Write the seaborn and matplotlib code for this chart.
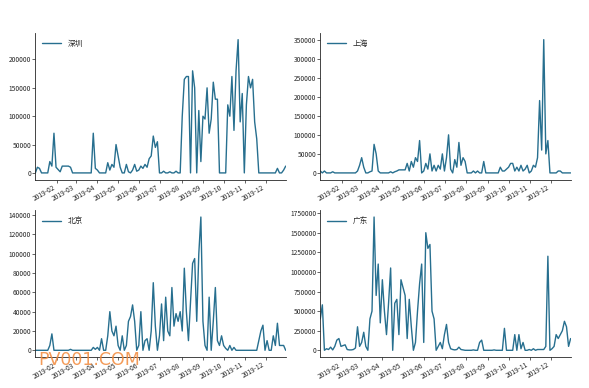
import matplotlib
matplotlib.use("Agg")
import matplotlib.dates as mdates
import matplotlib.pyplot as plt
import matplotlib.ticker as mticker
import pandas as pd
import seaborn as sns

sns.set_style("ticks")
plt.rcParams["font.family"] = ["Noto Sans CJK SC", "DejaVu Sans"]
plt.rcParams["axes.unicode_minus"] = False

OUT_PATH = "out.png"
LINE_COLOR = "#276f8f"

# 每 3 天一个点, 从 2019-01-01 开始, 共 122 个
dates = pd.date_range("2019-01-01", periods=122, freq="3D")

shenzhen = [
    0, 10000, 8000, 0, 0, 0, 0, 20000, 12000, 70000,
    10000, 6000, 2000, 12000, 12000, 12000, 12000, 10000, 0, 0,
    0, 0, 0, 0, 0, 0, 0, 0, 70000, 8000,
    5000, 0, 0, 0, 0, 18000, 5000, 15000, 10000, 50000,
    30000, 10000, 0, 0, 15000, 2000, 0, 5000, 15000, 3000,
    5000, 12000, 8000, 15000, 10000, 25000, 30000, 65000, 45000, 55000,
    0, 0, 3000, 0, 0, 2000, 0, 0, 3000, 0,
    0, 100000, 165000, 170000, 170000, 0, 180000, 150000, 0, 110000,
    20000, 100000, 95000, 150000, 70000, 95000, 160000, 130000, 130000, 0,
    0, 0, 0, 120000, 100000, 170000, 75000, 180000, 235000, 90000,
    140000, 0, 120000, 170000, 150000, 165000, 90000, 60000, 0, 0,
    0, 0, 0, 0, 0, 0, 0, 8000, 0, 0,
    5000, 12000,
]

shanghai = [
    5000, 0, 5000, 0, 0, 0, 3000, 0, 0, 0,
    0, 0, 0, 0, 0, 0, 0, 0, 5000, 20000,
    40000, 15000, 0, 0, 3000, 5000, 75000, 50000, 5000, 0,
    0, 0, 0, 0, 3000, 0, 3000, 5000, 8000, 8000,
    8000, 8000, 25000, 5000, 30000, 15000, 40000, 30000, 85000, 0,
    5000, 25000, 10000, 50000, 5000, 20000, 5000, 20000, 10000, 50000,
    5000, 40000, 100000, 10000, 0, 35000, 15000, 80000, 20000, 40000,
    30000, 0, 0, 0, 5000, 0, 5000, 0, 0, 30000,
    0, 0, 0, 0, 0, 0, 0, 15000, 5000, 5000,
    10000, 15000, 25000, 25000, 5000, 15000, 5000, 20000, 5000, 10000,
    20000, 0, 5000, 20000, 15000, 40000, 190000, 60000, 350000, 50000,
    85000, 0, 0, 0, 0, 5000, 5000, 0, 0, 0,
    0, 0,
]

beijing = [
    0, 0, 0, 0, 0, 0, 0, 5000, 17000, 0,
    0, 0, 0, 0, 0, 0, 0, 1000, 0, 0,
    0, 0, 0, 0, 0, 0, 0, 0, 3000, 1000,
    3000, 0, 12000, 0, 0, 15000, 40000, 20000, 15000, 25000,
    5000, 0, 15000, 0, 5000, 30000, 35000, 47000, 30000, 0,
    5000, 40000, 0, 10000, 12000, 0, 20000, 70000, 25000, 0,
    15000, 48000, 10000, 55000, 20000, 15000, 65000, 25000, 38000, 30000,
    40000, 20000, 85000, 40000, 10000, 50000, 90000, 95000, 30000, 100000,
    138000, 30000, 5000, 0, 55000, 0, 30000, 65000, 10000, 5000,
    15000, 5000, 2000, 0, 5000, 0, 3000, 0, 0, 0,
    0, 0, 0, 0, 0, 0, 0, 0, 10000, 20000,
    26000, 0, 10000, 0, 0, 15000, 5000, 28000, 5000, 5000,
    5000, 0,
]

guangdong = [
    400000, 580000, 0, 20000, 10000, 40000, 5000, 50000, 130000, 150000,
    50000, 60000, 70000, 10000, 5000, 5000, 10000, 30000, 300000, 50000,
    100000, 230000, 50000, 0, 400000, 500000, 1700000, 700000, 1100000, 350000,
    900000, 500000, 200000, 600000, 1050000, 0, 600000, 650000, 200000, 900000,
    800000, 700000, 150000, 650000, 300000, 0, 100000, 500000, 850000, 1100000,
    100000, 1500000, 1300000, 1350000, 500000, 400000, 0, 50000, 100000, 20000,
    200000, 330000, 100000, 20000, 10000, 5000, 10000, 40000, 10000, 5000,
    0, 0, 0, 0, 5000, 0, 0, 100000, 130000, 0,
    0, 0, 0, 0, 5000, 0, 0, 0, 0, 280000,
    0, 0, 0, 0, 200000, 0, 200000, 20000, 100000, 0,
    0, 10000, 0, 20000, 0, 10000, 10000, 10000, 10000, 50000,
    1200000, 0, 20000, 50000, 200000, 150000, 200000, 250000, 370000, 300000,
    50000, 150000,
]

cities = ["深圳", "上海", "北京", "广东"]
series = [shenzhen, shanghai, beijing, guangdong]
y_steps = [50000, 50000, 20000, 250000]


def main() -> None:
    fig, axes = plt.subplots(2, 2, figsize=(5.89, 3.88), dpi=100)
    fig.subplots_adjust(left=0.06, right=0.97, top=0.915, bottom=0.08,
                        wspace=0.135, hspace=0.21)

    for ax, city, values, step in zip(axes.flat, cities, series, y_steps):
        df = pd.DataFrame({"date": dates, "value": values})
        sns.lineplot(data=df, x="date", y="value", ax=ax, color=LINE_COLOR,
                     linewidth=1.0, label=city)
        ax.set_xlim(pd.Timestamp("2019-01-01"), pd.Timestamp("2019-12-31"))
        ax.xaxis.set_major_locator(mdates.MonthLocator(bymonth=range(2, 13)))
        ax.xaxis.set_major_formatter(mdates.DateFormatter("%Y-%m"))
        ax.yaxis.set_major_locator(mticker.MultipleLocator(step))
        ax.yaxis.set_major_formatter(mticker.FuncFormatter(lambda v, p: f"{int(v)}"))
        ax.set_xlabel("")
        ax.set_ylabel("")
        ax.tick_params(labelsize=4.8, length=2, width=0.5, pad=1)
        for lbl in ax.get_xticklabels():
            lbl.set_rotation(30)
            lbl.set_ha("right")
        for s in ("left", "bottom"):
            ax.spines[s].set_linewidth(0.6)
        ax.legend(loc="upper left", frameon=False, fontsize=5.5, handlelength=2.5)
        sns.despine(ax=ax)

    fig.text(0.065, 0.058, "PV001.COM", color="#f28a3c", alpha=0.85,
             fontsize=12.5, family=["DejaVu Sans"])

    fig.savefig(OUT_PATH, dpi=100)
    plt.close(fig)


if __name__ == "__main__":
    main()
